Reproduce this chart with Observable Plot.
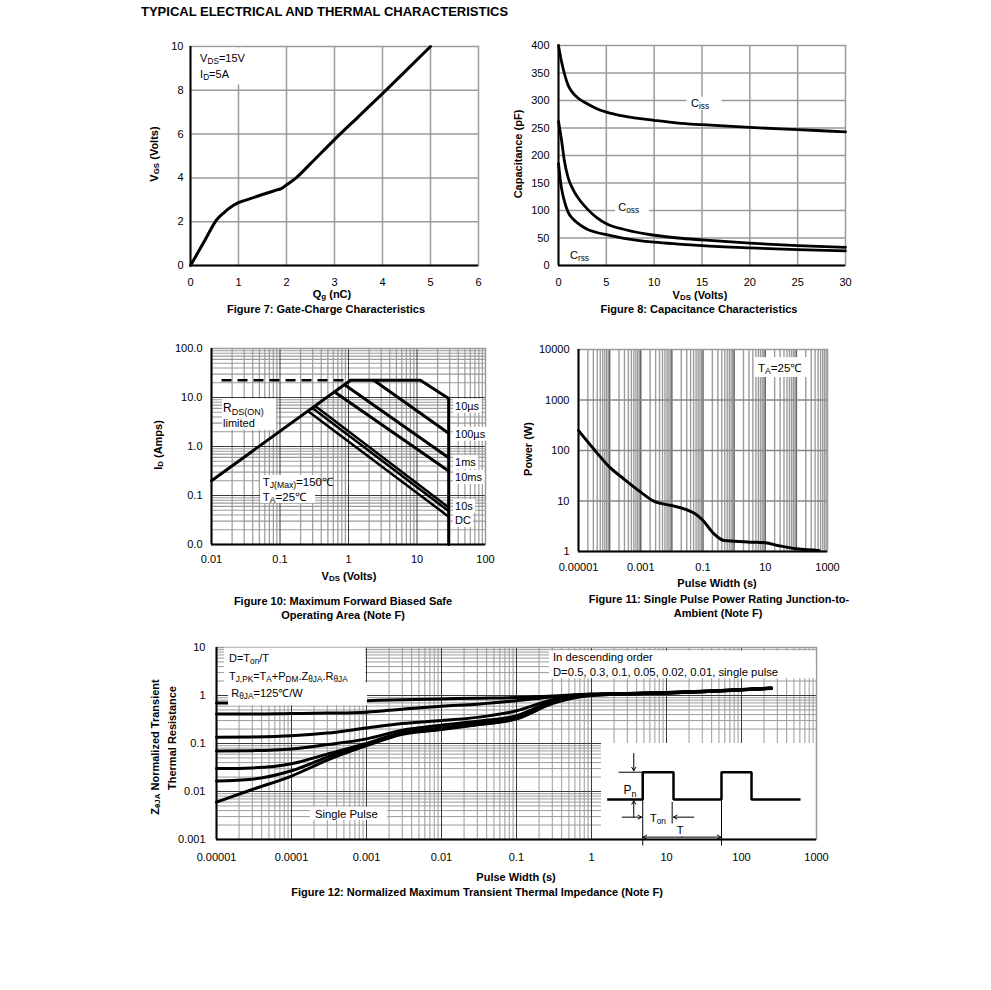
<!DOCTYPE html>
<html><head><meta charset="utf-8">
<script src="https://cdn.jsdelivr.net/npm/d3@7"></script>
<script src="https://cdn.jsdelivr.net/npm/@observablehq/plot@0.6"></script>
<style>
html,body{margin:0;padding:0;background:#fff;}
#page{position:relative;width:991px;height:990px;overflow:hidden;font-family:"Liberation Sans",Arial,Helvetica,sans-serif;color:#000;background:#fff;}
.lbl{position:absolute;white-space:nowrap;line-height:1.15;}
.lbl sub{font-size:0.72em;vertical-align:-0.22em;line-height:0;}
</style></head>
<body><div id="page"></div>
<script>
// ================= DATA =================
// Figure 7: Gate charge
const f7Qg  = [0, 0.3, 0.55, 0.7, 0.85, 1, 1.2, 1.5, 1.8, 1.9, 2, 2.2, 2.5, 3, 3.5, 4, 4.5, 5];
const f7Vgs = [0, 1.15, 2.1, 2.42, 2.68, 2.87, 3.02, 3.24, 3.45, 3.52, 3.68, 4.0, 4.65, 5.75, 6.8, 7.85, 8.92, 10];
const f7XTicks = [0, 1, 2, 3, 4, 5, 6];
const f7YTicks = [0, 2, 4, 6, 8, 10];

// Figure 8: Capacitance
const f8Vds  = [0, 0.3, 0.6, 1, 1.5, 2, 3, 4, 5, 7, 10, 12.5, 15, 20, 25, 30];
const f8Ciss = [400, 372, 350, 328, 314, 305, 294, 285, 279, 271, 264, 259, 256, 251, 247, 243];
const f8Coss = [262, 230, 192, 160, 139, 124, 103, 87, 76, 65, 55, 50, 46.5, 40.5, 36, 33];
const f8Crss = [185, 142, 118, 97, 85, 77, 66, 60, 56, 49, 42.5, 39, 36, 32, 29, 26.5];
const f8XTicks = [0, 5, 10, 15, 20, 25, 30];
const f8YTicks = [0, 50, 100, 150, 200, 250, 300, 350, 400];

// Figure 10: Safe operating area (V, A)
const f10BoundV = [0.01, 1.07, 11.2, 29, 29];
const f10BoundI = [0.2, 22.5, 22.5, 9.5, 0.01];
const f10DashV = [0.014, 1.07];
const f10DashI = [22.5, 22.5];
const f10us100V = [2.34, 29],  f10us100I = [22.5, 1.86];
const f10ms1V   = [0.9, 29],   f10ms1I   = [17.8, 0.59];
const f10ms10V  = [0.65, 29],  f10ms10I  = [12.5, 0.315];
const f10s1V    = [0.33, 29],  f10s1I    = [6.6, 0.057];
const f10s10V   = [0.3, 29],   f10s10I   = [6.0, 0.048];
const f10dcV    = [0.26, 29],  f10dcI    = [5.2, 0.037];
const f10XTicks = [0.01, 0.1, 1, 10, 100];
const f10XLabels = ["0.01", "0.1", "1", "10", "100"];
const f10YTicks = [0.01, 0.1, 1, 10, 100];
const f10YLabels = ["0.0", "0.1", "1.0", "10.0", "100.0"];
const f10CurveLabels = ["10\u00b5s", "100\u00b5s", "1ms", "10ms", "10s", "DC"];
const f10CurveLabelY = [6.6, 1.77, 0.473, 0.233, 0.0596, 0.0308];

// Figure 11: Single pulse power
const f11T = [1e-5, 3.05e-5, 1e-4, 2.83e-4, 1e-3, 2.6e-3, 0.01, 0.0244, 0.0657, 0.1, 0.226, 0.475, 1, 3.45, 10, 25, 100, 488, 550];
const f11P = [249, 108, 46.8, 27.5, 15, 9.9, 8.1, 7.0, 5.2, 4.1, 2.24, 1.65, 1.6, 1.53, 1.49, 1.32, 1.13, 1.05, 1.04];
const f11XTicks = [1e-5, 1e-3, 0.1, 10, 1000];
const f11XLabels = ["0.00001", "0.001", "0.1", "10", "1000"];
const f11YTicks = [1, 10, 100, 1000, 10000];
const f11YLabels = ["1", "10", "100", "1000", "10000"];

// Figure 12: Transient thermal impedance
const f12T    = [1e-5, 3e-5, 1e-4, 3e-4, 1e-3, 3e-3, 0.01, 0.03, 0.1, 0.3, 1, 3, 10, 30, 100, 250];
const f12D50  = [0.70, 0.70, 0.71, 0.74, 0.78, 0.82, 0.85, 0.88, 0.91, 0.98, 1.07, 1.10, 1.15, 1.22, 1.33, 1.43];
const f12D30  = [0.41, 0.41, 0.42, 0.43, 0.45, 0.52, 0.60, 0.66, 0.78, 0.93, 1.06, 1.10, 1.15, 1.22, 1.33, 1.43];
const f12D10  = [0.135, 0.137, 0.145, 0.165, 0.21, 0.26, 0.30, 0.35, 0.48, 0.82, 1.05, 1.09, 1.14, 1.21, 1.32, 1.42];
const f12D05  = [0.07, 0.071, 0.077, 0.095, 0.125, 0.19, 0.24, 0.29, 0.38, 0.76, 1.04, 1.09, 1.14, 1.21, 1.32, 1.42];
const f12D02  = [0.03, 0.031, 0.038, 0.06, 0.10, 0.17, 0.21, 0.26, 0.34, 0.72, 1.03, 1.08, 1.13, 1.20, 1.31, 1.41];
const f12D01  = [0.0165, 0.018, 0.027, 0.052, 0.095, 0.16, 0.20, 0.25, 0.33, 0.70, 1.02, 1.08, 1.13, 1.20, 1.31, 1.41];
const f12Single = [0.006, 0.011, 0.021, 0.045, 0.09, 0.155, 0.195, 0.245, 0.325, 0.68, 1.00, 1.07, 1.12, 1.19, 1.30, 1.40];
const f12XTicks = [1e-5, 1e-4, 1e-3, 0.01, 0.1, 1, 10, 100, 1000];
const f12XLabels = ["0.00001", "0.0001", "0.001", "0.01", "0.1", "1", "10", "100", "1000"];
const f12YTicks = [0.001, 0.01, 0.1, 1, 10];
const f12YLabels = ["0.001", "0.01", "0.1", "1", "10"];
// inset pulse diagram (in the chart's own units)
const f12WaveT = [1.62, 4.82, 4.82, 12.4, 12.4, 54.1, 54.1, 136, 136, 612];
const f12WaveZ = [0.0068, 0.0068, 0.0252, 0.0252, 0.0068, 0.0068, 0.0252, 0.0252, 0.0068, 0.0068];

// ================= HELPERS =================
const FONT = '"Liberation Sans", Arial, Helvetica, sans-serif';
const page = document.getElementById("page");
const GRID = "#9a9a9a", MAJOR = "#3a3a3a";
const S = s => ({s});

function label(html, x, y, o = {}) {
  const {size = 11, bold = true, rotate = 0, anchor = "middle"} = o;
  const d = document.createElement("div");
  d.className = "lbl";
  d.innerHTML = html;
  Object.assign(d.style, {left: x + "px", top: y + "px", fontSize: size + "px", fontWeight: bold ? "bold" : "normal"});
  const tx = anchor === "start" ? "0" : anchor === "end" ? "-100%" : "-50%";
  d.style.transform = `translate(${tx},-50%)` + (rotate ? ` rotate(${rotate}deg)` : "");
  page.appendChild(d);
}

const M = {l: 70, t: 12, r: 20, b: 40};
function makePlot(frame, x, y, marks) {
  const [fl, ft, fr, fb] = frame;
  const svg = Plot.plot({
    width: fr - fl + M.l + M.r, height: fb - ft + M.t + M.b,
    marginLeft: M.l, marginTop: M.t, marginRight: M.r, marginBottom: M.b,
    x, y, marks,
    style: {fontFamily: FONT, fontSize: "11px", color: "#000", background: "transparent", overflow: "visible"}
  });
  Object.assign(svg.style, {position: "absolute", left: (fl - M.l) + "px", top: (ft - M.t) + "px",
    background: "transparent", overflow: "visible", maxWidth: "none", fontFamily: FONT});
  page.appendChild(svg);
  return svg;
}

function ann(svg, xv, yv, parts, o = {}) {
  const {size = 11, anchor = "start", box = false, pad = 2} = o;
  const px = svg.scale("x").apply(xv), py = svg.scale("y").apply(yv) + size * 0.36;
  const g = d3.select(svg).append("g");
  const t = g.append("text").attr("x", px).attr("y", py).attr("font-size", size)
    .attr("font-family", FONT).attr("text-anchor", anchor).attr("fill", "#000");
  let sub = false;
  const shift = size * 0.2;
  for (const p of parts) {
    const isSub = typeof p !== "string";
    const ts = t.append("tspan").text(isSub ? p.s : p);
    if (isSub) ts.attr("font-size", size * 0.75);
    if (isSub && !sub) ts.attr("dy", shift);
    if (!isSub && sub) ts.attr("dy", -shift);
    sub = isSub;
  }
  if (box) {
    const b = t.node().getBBox();
    g.insert("rect", "text").attr("x", b.x - pad).attr("y", b.y - 1).attr("width", b.width + 2 * pad)
      .attr("height", b.height + 2).attr("fill", "white");
  }
}

function logMinor(e0, e1) { const o = []; for (let e = e0; e < e1; e++) for (let k = 2; k <= 9; k++) o.push(k * Math.pow(10, e)); return o; }
function logMajor(e0, e1) { const o = []; for (let e = e0; e <= e1; e++) o.push(Math.pow(10, e)); return o; }
const fmt = (ticks, labels) => d => labels[ticks.indexOf(d)];
const box = (x1, x2, y1, y2) => Plot.rect([{x1, x2, y1, y2}], {x1: "x1", x2: "x2", y1: "y1", y2: "y2", fill: "white"});
const curve = (xs, ys, o = {}) => Plot.line(xs, {x: xs, y: ys, stroke: "black", strokeWidth: 3, ...o});
const axes = (xT, xL, yT, yL, padX, padY) => [
  Plot.axisX({ticks: xT, tickFormat: fmt(xT, xL), tickSize: 0, tickPadding: padX, label: null, fontSize: 11}),
  Plot.axisY({ticks: yT, tickFormat: fmt(yT, yL), tickSize: 0, tickPadding: padY, label: null, fontSize: 11})
];

// ================= TITLE =================
label("TYPICAL ELECTRICAL AND THERMAL CHARACTERISTICS", 141, 12, {size: 13, anchor: "start"});

// ================= FIGURE 7 =================
const p7 = makePlot([190, 46, 478, 265], {domain: [0, 6]}, {domain: [0, 10]}, [
  Plot.ruleX(f7XTicks.slice(1, -1), {stroke: GRID, strokeWidth: 1.5}),
  Plot.ruleY(f7YTicks.slice(1, -1), {stroke: GRID, strokeWidth: 1.5}),
  Plot.frame({stroke: GRID, strokeWidth: 1.5}),
  box(0.03, 1.12, 8.25, 9.93),
  Plot.ruleX([0], {stroke: "black", strokeWidth: 2}),
  Plot.ruleY([0], {stroke: "black", strokeWidth: 2}),
  curve(f7Qg, f7Vgs, {curve: "monotone-x"}),
  ...axes(f7XTicks, f7XTicks.map(String), f7YTicks, f7YTicks.map(String), 13, 7)
]);
ann(p7, 0.21, 9.45, ["V", S("DS"), "=15V"]);
ann(p7, 0.21, 8.72, ["I", S("D"), "=5A"]);
label("V<sub>GS</sub> (Volts)", 154, 154, {rotate: -90});
label("Q<sub>g</sub> (nC)", 332, 294);
label("Figure 7: Gate-Charge Characteristics", 326, 309);

// ================= FIGURE 8 =================
const p8 = makePlot([558, 45, 845, 265], {domain: [0, 30]}, {domain: [0, 400]}, [
  Plot.ruleX(f8XTicks.slice(1, -1), {stroke: GRID, strokeWidth: 1.5}),
  Plot.ruleY(f8YTicks.slice(1, -1), {stroke: GRID, strokeWidth: 1.5}),
  Plot.frame({stroke: GRID, strokeWidth: 1.5}),
  curve(f8Vds, f8Ciss, {curve: "monotone-x", strokeWidth: 2.8}),
  curve(f8Vds, f8Coss, {curve: "monotone-x", strokeWidth: 2.8}),
  curve(f8Vds, f8Crss, {curve: "monotone-x", strokeWidth: 2.8}),
  box(13.45, 17.1, 282, 306),
  box(5.96, 9.5, 95, 118),
  Plot.ruleX([0], {stroke: "black", strokeWidth: 2}),
  Plot.ruleY([0], {stroke: "black", strokeWidth: 2}),
  ...axes(f8XTicks, f8XTicks.map(String), f8YTicks, f8YTicks.map(String), 13, 9)
]);
ann(p8, 13.9, 294, ["C", S("iss")]);
ann(p8, 6.3, 106, ["C", S("oss")]);
ann(p8, 1.25, 18, ["C", S("rss")]);
label("Capacitance (pF)", 518, 154, {rotate: -90});
label("V<sub>DS</sub> (Volts)", 700, 295);
label("Figure 8: Capacitance Characteristics", 699, 309);

// ================= FIGURE 10 =================
const p10 = makePlot([211, 348, 485, 544], {type: "log", domain: [0.01, 100]}, {type: "log", domain: [0.01, 100]}, [
  Plot.ruleX(logMinor(-2, 2), {stroke: GRID, strokeWidth: 1.2}),
  Plot.ruleY(logMinor(-2, 2), {stroke: GRID, strokeWidth: 1.2}),
  Plot.ruleX([0.1, 1, 10], {stroke: MAJOR, strokeWidth: 1}),
  Plot.ruleY([0.1, 1, 10], {stroke: MAJOR, strokeWidth: 1}),
  Plot.frame({stroke: GRID, strokeWidth: 1.5}),
  box(0.0145, 0.089, 2.14, 9.3),
  box(0.052, 0.33, 0.069, 0.257),
  curve(f10DashV, f10DashI, {strokeWidth: 2.5, strokeDasharray: "10,6", strokeLinecap: "butt"}),
  curve(f10BoundV, f10BoundI, {strokeLinejoin: "miter"}),
  curve(f10us100V, f10us100I),
  curve(f10ms1V, f10ms1I),
  curve(f10ms10V, f10ms10I),
  curve(f10s1V, f10s1I, {strokeWidth: 2.5}),
  curve(f10s10V, f10s10I, {strokeWidth: 2.5}),
  curve(f10dcV, f10dcI, {strokeWidth: 2.5}),
  Plot.ruleX([0.01], {stroke: "black", strokeWidth: 2}),
  Plot.ruleY([0.01], {stroke: "black", strokeWidth: 2}),
  ...axes(f10XTicks, f10XLabels, f10YTicks, f10YLabels, 11, 9)
]);
ann(p10, 0.015, 6.0, ["R", S("DS(ON)")], {size: 12});
ann(p10, 0.015, 2.97, ["limited"]);
ann(p10, 0.057, 0.184, ["T", S("J(Max)"), "=150\u2103"], {size: 11.5});
ann(p10, 0.057, 0.091, ["T", S("A"), "=25\u2103"], {size: 11.5});
f10CurveLabels.forEach((t, i) => ann(p10, 36.5, f10CurveLabelY[i], [t], {box: true}));
label("I<sub>D</sub> (Amps)", 158, 445, {rotate: -90});
label("V<sub>DS</sub> (Volts)", 349, 576);
label("Figure 10: Maximum Forward Biased Safe", 343, 601);
label("Operating Area (Note F)", 343, 615);

// ================= FIGURE 11 =================
const p11 = makePlot([578, 349, 827, 551], {type: "log", domain: [1e-5, 1000]}, {type: "log", domain: [1, 10000]}, [
  Plot.ruleX(logMinor(-5, 3), {stroke: "#9c9c9c", strokeWidth: 1.4}),
  Plot.ruleX(logMajor(-4, 2), {stroke: "#666", strokeWidth: 1.5}),
  Plot.ruleY([10, 100, 1000], {stroke: "#888", strokeWidth: 1.5}),
  Plot.frame({stroke: GRID, strokeWidth: 1.5}),
  box(4.56, 250, 2790, 6900),
  curve(f11T, f11P, {curve: "monotone-x"}),
  Plot.ruleX([1e-5], {stroke: "black", strokeWidth: 2}),
  Plot.ruleY([1], {stroke: "black", strokeWidth: 2}),
  ...axes(f11XTicks, f11XLabels, f11YTicks, f11YLabels, 12, 9)
]);
ann(p11, 6.1, 4200, ["T", S("A"), "=25\u2103"], {size: 11.5});
label("Power (W)", 528, 449, {rotate: -90});
label("Pulse Width (s)", 717, 583);
label("Figure 11: Single Pulse Power Rating Junction-to-", 719, 599);
label("Ambient (Note F)", 718, 613);

// ================= FIGURE 12 =================
const p12 = makePlot([216, 647, 816, 839], {type: "log", domain: [1e-5, 1000]}, {type: "log", domain: [0.001, 10]}, [
  Plot.ruleX(logMinor(-5, 3), {stroke: GRID, strokeWidth: 1}),
  Plot.ruleY(logMinor(-3, 1), {stroke: GRID, strokeWidth: 1}),
  Plot.ruleX(logMajor(-4, 2), {stroke: MAJOR, strokeWidth: 1}),
  Plot.ruleY(logMajor(-2, 0), {stroke: MAJOR, strokeWidth: 1}),
  box(1.36, 1000, 0.001, 0.1),
  Plot.frame({stroke: GRID, strokeWidth: 1.5}),
  curve(f12T, f12D50, {curve: "monotone-x"}),
  curve(f12T, f12D30, {curve: "monotone-x"}),
  curve(f12T, f12D10, {curve: "monotone-x"}),
  curve(f12T, f12D05, {curve: "monotone-x"}),
  curve(f12T, f12D02, {curve: "monotone-x"}),
  curve(f12T, f12D01, {curve: "monotone-x"}),
  curve(f12T, f12Single, {curve: "monotone-x"}),
  box(1.28e-5, 9.7e-4, 1.845, 9.7),
  box(1.445e-5, 1.03e-3, 0.61, 1.845),
  box(0.275, 990, 2.24, 8.5),
  box(1.79e-4, 1.9e-3, 0.0025, 0.0047),
  // inset pulse diagram
  curve(f12WaveT, f12WaveZ, {strokeWidth: 2.5, strokeLinejoin: "miter", strokeLinecap: "butt"}),
  Plot.link([
    {x1: 2.29, y1: 0.0252, x2: 4.82, y2: 0.0252},
    {x1: 11.9, y1: 0.0061, x2: 11.9, y2: 0.00216},
    {x1: 4.82, y1: 0.0068, x2: 4.82, y2: 0.00075},
    {x1: 54.1, y1: 0.0068, x2: 54.1, y2: 0.00075}
  ], {x1: "x1", y1: "y1", x2: "x2", y2: "y2", stroke: "black", strokeWidth: 1}),
  Plot.arrow([
    {x1: 3.66, y1: 0.062, x2: 3.66, y2: 0.027},
    {x1: 3.66, y1: 0.0029, x2: 3.66, y2: 0.0064},
    {x1: 2.57, y1: 0.00292, x2: 4.65, y2: 0.00292},
    {x1: 23.1, y1: 0.00292, x2: 12.4, y2: 0.00292},
    {x1: 16.1, y1: 0.00112, x2: 4.9, y2: 0.00112},
    {x1: 16.1, y1: 0.00112, x2: 53, y2: 0.00112}
  ], {x1: "x1", y1: "y1", x2: "x2", y2: "y2", stroke: "black", strokeWidth: 1, headLength: 6}),
  Plot.ruleX([1e-5], {stroke: "black", strokeWidth: 2}),
  Plot.ruleY([0.001], {stroke: "black", strokeWidth: 2}),
  ...axes(f12XTicks, f12XLabels, f12YTicks, f12YLabels, 14, 11)
]);
ann(p12, 1.49e-5, 5.82, ["D=T", S("on"), "/T"]);
ann(p12, 1.49e-5, 2.46, ["T", S("J,PK"), "=T", S("A"), "+P", S("DM"), ".Z", S("\u03b8JA"), ".R", S("\u03b8JA")]);
ann(p12, 1.6e-5, 1.09, ["R", S("\u03b8JA"), "=125\u2103/W"]);
ann(p12, 0.311, 6.1, ["In descending order"], {size: 11.3});
ann(p12, 0.311, 2.98, ["D=0.5, 0.3, 0.1, 0.05, 0.02, 0.01, single pulse"], {size: 11.3});
ann(p12, 2.09e-4, 0.0034, ["Single Pulse"], {size: 11.3});
ann(p12, 3.31, 0.0105, ["P", S("n")], {anchor: "middle", size: 12});
ann(p12, 6.12, 0.00274, ["T", S("on")]);
ann(p12, 15.4, 0.00155, ["T"], {anchor: "middle"});
label("Z<sub>\u03b8JA</sub> Normalized Transient", 155, 747, {rotate: -90});
label("Thermal Resistance", 172, 738, {rotate: -90});
label("Pulse Width (s)", 516, 877);
label("Figure 12: Normalized Maximum Transient Thermal Impedance (Note F)", 477, 892);
</script></body></html>
